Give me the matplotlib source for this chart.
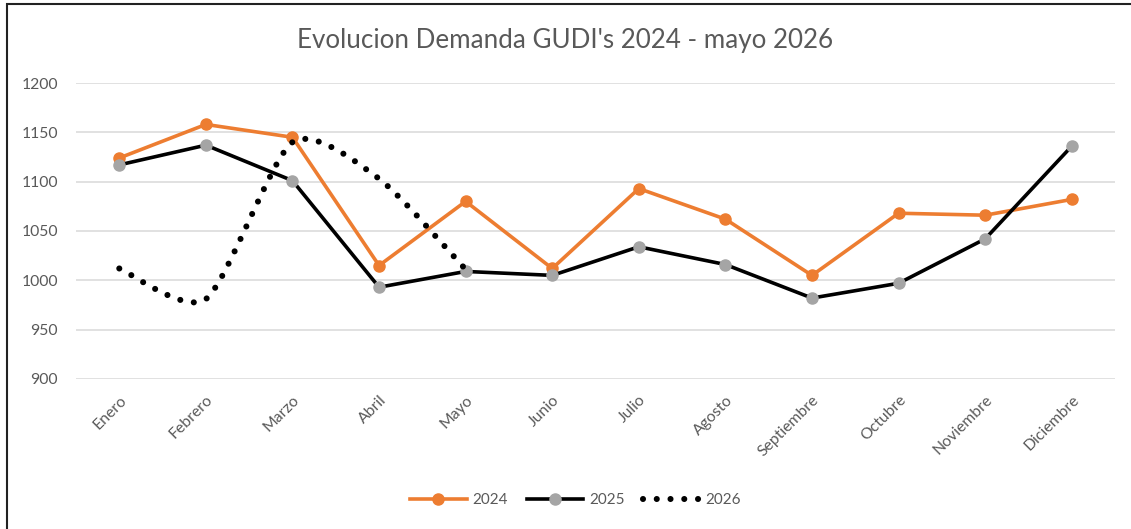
import matplotlib.pyplot as plt
import matplotlib.patches as mpatches
from matplotlib.lines import Line2D
from matplotlib.path import Path

plt.rcParams['font.family'] = ['Lato', 'DejaVu Sans']

# data
months = ['Enero', 'Febrero', 'Marzo', 'Abril', 'Mayo', 'Junio', 'Julio',
          'Agosto', 'Septiembre', 'Octubre', 'Noviembre', 'Diciembre']
d2024 = [1124, 1158, 1145, 1015, 1080, 1012, 1093, 1062, 1005, 1068, 1066, 1082]
d2025 = [1117, 1137, 1101, 993, 1009, 1005, 1034, 1016, 982, 997, 1042, 1136]
d2026 = [1012, 981, 1140, 1103, 1011]

orange = '#ED7D31'
grey = '#A5A5A5'
txt = '#595959'

fig = plt.figure(figsize=(11.31, 5.29), dpi=100)
ax = fig.add_axes([0.0672, 0.2836, 0.9187, 0.5595])

x = list(range(len(months)))
ax.plot(x, d2024, color=orange, lw=2.6, marker='o', ms=8, zorder=3)
ax.plot(x, d2025, color='black', lw=2.6, marker='o', ms=8,
        mfc=grey, mec=grey, zorder=4)

# smoothed dotted line (Excel style smoothing -> Bezier segments)
k = 0.12
pts = list(zip(range(len(d2026)), d2026))
verts = [pts[0]]
codes = [Path.MOVETO]
for i in range(len(pts) - 1):
    p0 = pts[i - 1] if i > 0 else pts[i]
    p1 = pts[i]
    p2 = pts[i + 1]
    p3 = pts[i + 2] if i + 2 < len(pts) else pts[i + 1]
    c1 = (p1[0] + (p2[0] - p0[0]) * k, p1[1] + (p2[1] - p0[1]) * k)
    c2 = (p2[0] - (p3[0] - p1[0]) * k, p2[1] - (p3[1] - p1[1]) * k)
    verts += [c1, c2, p2]
    codes += [Path.CURVE4] * 3
dash = (0, (0.001, 2.25))
dots = mpatches.PathPatch(Path(verts, codes), fill=False, edgecolor='black',
                          lw=4.4, linestyle=dash, zorder=5)
dots.set_capstyle('round')
ax.add_patch(dots)

ax.set_xlim(-0.5, 11.5)
ax.set_ylim(900, 1200)
ax.set_yticks(range(900, 1201, 50))
ax.set_xticks(x)
ax.set_xticklabels(months, rotation=45, ha='right', rotation_mode='anchor')
ax.tick_params(length=0, labelsize=11.3, labelcolor=txt)
ax.tick_params(axis='y', pad=13)
ax.tick_params(axis='x', pad=10)
ax.grid(axis='y', color='#D9D9D9', lw=1.1)
ax.set_axisbelow(True)
for s in ax.spines.values():
    s.set_visible(False)

fig.text(0.5, 0.923, "Evolucion Demanda GUDI's 2024 - mayo 2026",
         ha='center', va='center', fontsize=18.7, color=txt)

# outer frame
fig.patches.append(mpatches.Rectangle((7 / 1131, -0.1), 1.2, 1.1 - 4 / 529,
                                      transform=fig.transFigure, fill=False,
                                      edgecolor='#222222', lw=1.5))

h24 = Line2D([], [], color=orange, lw=2.6, marker='o', ms=8)
h25 = Line2D([], [], color='black', lw=2.6, marker='o', ms=8, mfc=grey, mec=grey)
h26 = Line2D([], [], color='black', lw=4.4, linestyle=dash,
             dash_capstyle='round')
fig.legend([h24, h25, h26], ['2024', '2025', '2026'], loc='center',
           bbox_to_anchor=(0.509, 0.055), ncol=3, frameon=False,
           fontsize=11, labelcolor=txt, handlelength=3.7, columnspacing=1.2,
           handletextpad=0.4)

fig.savefig('out.png', dpi=100)
